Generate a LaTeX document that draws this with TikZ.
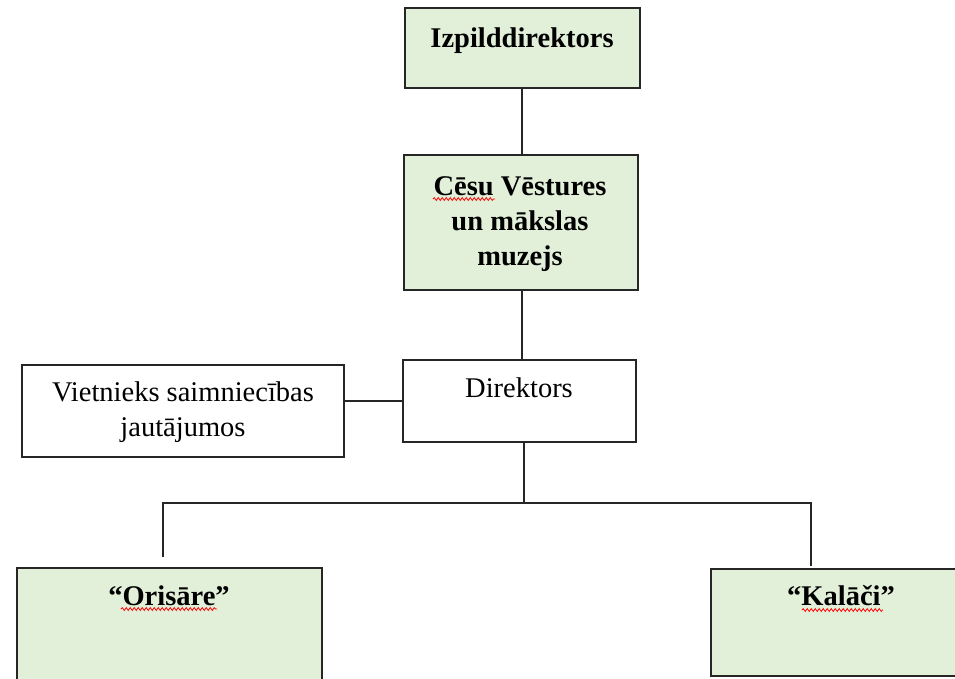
\documentclass[tikz,border=0pt]{standalone}
\usepackage{fontspec}
\setmainfont{Liberation Serif}
\usetikzlibrary{decorations.pathmorphing}
\definecolor{boxgreen}{HTML}{E2EFD9}
\definecolor{edgegray}{HTML}{262626}
\tikzset{
  orgbox/.style={draw=edgegray, line width=1.6pt},
  greenbox/.style={orgbox, fill=boxgreen},
  plainbox/.style={orgbox, fill=white},
  conn/.style={draw=edgegray, line width=1.4pt},
  lbl/.style={font=\fontsize{28.5}{35}\selectfont, inner sep=0pt, anchor=base, align=center},
  blbl/.style={lbl, font=\fontsize{28.5}{35}\selectfont\bfseries},
  spell/.style={draw=red, line width=0.8pt, decorate, decoration={snake, amplitude=1.4pt, segment length=4pt}}
}
\begin{document}
\begin{tikzpicture}[x=1pt, y=-1pt]
\useasboundingbox (0,0) rectangle (955,678);
\clip (0,0) rectangle (955,678);
% boxes
\path[greenbox] (405,8) rectangle (640,88);
\coordinate (izT) at (522,88);
\path[greenbox] (404,155) rectangle (638,290);
\coordinate (cesT) at (522,155);
\coordinate (cesB) at (522,290);
\path[plainbox] (403,360) rectangle (636,442);
\coordinate (dirT) at (522,360);
\coordinate (dirL) at (403,401);
\coordinate (dirB) at (524,442);
\path[plainbox] (22,365) rectangle (344,457);
\coordinate (vieR) at (344,401);
\path[greenbox] (17,568) rectangle (322,700);
\coordinate (oriT) at (163,568);
\path[greenbox] (711,569) rectangle (972,676);
\coordinate (kalT) at (811,569);
% texts (base anchor of multi-line nodes is the last line)
\node[blbl] (iz) at (522,47) {Izpilddirektors};
\node[blbl] (ces) at (520,265) {Cēsu Vēstures\\un mākslas\\muzejs};
\node[lbl] (dir) at (519,397) {Direktors};
\node[lbl] (vie) at (183,436) {Vietnieks saimniecības\\jautājumos};
\node[blbl] (ori) at (169,605) {“Orisāre”};
\node[blbl] (kal) at (841,605) {“Kalāči”};
% spelling marks
\draw[spell] (433,199) -- (495,199);
\draw[spell] (121,609) -- (217,609);
\draw[spell] (802,610) -- (883,610);
% connectors
\coordinate (jL) at (163,503);
\coordinate (jR) at (811,503);
\coordinate (jM) at (524,503);
\draw[conn] (izT) -- (cesT);
\draw[conn] (cesB) -- (dirT);
\draw[conn] (vieR) -- (dirL);
\draw[conn] (dirB) -- (jM);
\draw[conn] (oriT |- 0,557) -- (jL) -- (jR) -- (kalT |- 0,566);
\end{tikzpicture}
\end{document}
